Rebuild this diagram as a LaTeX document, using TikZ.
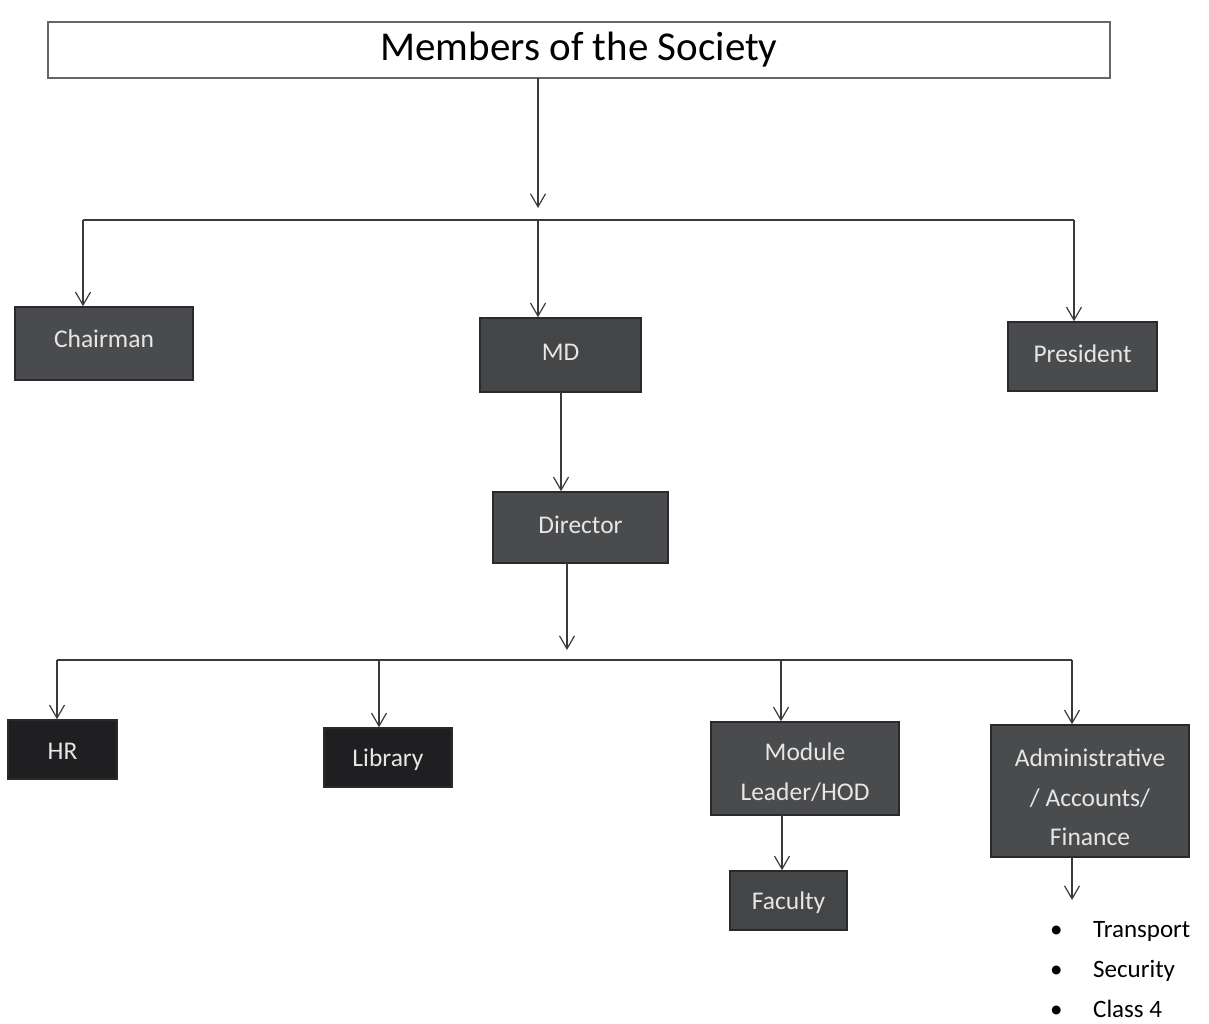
\documentclass[tikz,border=0pt]{standalone}
\usepackage{fontspec}
\setmainfont{Carlito}
\usetikzlibrary{arrows.meta}
\definecolor{boxgray}{HTML}{4A4B4D}
\definecolor{boxdark}{HTML}{1F1F21}
\definecolor{boxedge}{HTML}{2A2A2C}
\definecolor{boxtext}{HTML}{E6E6E6}
\definecolor{lineclr}{HTML}{3A3A3A}
\begin{document}
\begin{tikzpicture}[x=1pt,y=-1pt,
  box/.style={draw=boxedge,line width=1.5pt,fill=boxgray,text=boxtext,
    font=\fontsize{25.5}{39.5}\selectfont,align=center,inner sep=0pt,anchor=center},
  darkbox/.style={box,fill=boxdark},
  arr/.style={draw=lineclr,line width=1.2pt,-{Straight Barb[length=13pt,width=15pt,line width=1.2pt]}},
  ln/.style={draw=lineclr,line width=1.2pt},
  item/.style={anchor=base west,inner sep=0pt,font=\fontsize{25}{30}\selectfont,text=black}]
\useasboundingbox (0,0) rectangle (1209,1024);
% title
\node[draw=gray!80!black,line width=1.6pt,minimum width=1062pt,minimum height=56pt,inner sep=0pt,
  font=\fontsize{41}{48}\selectfont,anchor=center] (title) at (579,50) {Members of the Society};
% first level
\node[box,minimum width=178pt,minimum height=73pt,text depth=10pt] (chair) at (104,343.5) {Chairman};
\node[box,fill=boxgray!92!black,minimum width=161pt,minimum height=74pt,text depth=6pt] (md) at (560.5,355) {MD};
\node[box,minimum width=149pt,minimum height=69pt,text depth=6pt] (pres) at (1082.5,356.5) {President};
\node[box,minimum width=175pt,minimum height=71pt,text depth=6pt] (dir) at (580.5,527.5) {Director};
% second level
\node[darkbox,minimum width=109pt,minimum height=59pt,text height=20pt,text depth=0pt] (hr) at (62.5,749.5) {HR};
\node[darkbox,minimum width=128pt,minimum height=59pt,text height=23pt,text depth=5pt] (lib) at (388,757.5) {Library};
\node[box,minimum width=188pt,minimum height=93pt,text height=67pt,text depth=4pt] (mod) at (805,768.5) {Module\\Leader/HOD};
\node[box,minimum width=198pt,minimum height=132pt,text height=110pt,text depth=1pt] (adm) at (1090,791) {Administrative\\/ Accounts/\\Finance};
\node[box,fill=boxgray!92!black,minimum width=117pt,minimum height=59pt,text height=23pt,text depth=5pt] (fac) at (788.5,900.5) {Faculty};
% list
\node[item] (t1) at (1050,937) {\makebox[43pt][l]{•}Transport};
\node[item] (t2) at (1050,977) {\makebox[43pt][l]{•}Security};
\node[item] (t3) at (1050,1017) {\makebox[43pt][l]{•}Class 4};
% connectors level 1
\coordinate (ta) at (538,78);
\coordinate (tb) at (538,208);
\draw[arr] (ta) -- (tb);
\coordinate (b1l) at (83,220);
\coordinate (b1m) at (538,220);
\coordinate (b1r) at (1074,220);
\draw[ln] (b1l) -- (b1r);
\draw[arr] (b1l) -- (b1l |- chair.north);
\draw[arr] (b1m) -- (b1m |- md.north);
\draw[arr] (b1r) -- (b1r |- pres.north);
% MD -> Director
\coordinate (m1) at (561,392);
\draw[arr] (m1) -- (m1 |- dir.north);
% Director -> bus 2
\coordinate (d1) at (567,563);
\coordinate (d2) at (567,650);
\draw[arr] (d1) -- (d2);
\coordinate (b2l) at (57,660);
\coordinate (b2a) at (379,660);
\coordinate (b2b) at (781,660);
\coordinate (b2r) at (1072,660);
\draw[ln] (b2l) -- (b2r);
\draw[arr] (b2l) -- (b2l |- hr.north);
\draw[arr] (b2a) -- (b2a |- lib.north);
\draw[arr] (b2b) -- (b2b |- mod.north);
\draw[arr] (b2r) -- (b2r |- adm.north);
% Module -> Faculty
\coordinate (f1) at (782,815);
\draw[arr] (f1) -- (f1 |- fac.north);
% Admin -> list
\coordinate (a1) at (1072,857);
\coordinate (a2) at (1072,900);
\draw[arr] (a1) -- (a2);
\end{tikzpicture}
\end{document}
